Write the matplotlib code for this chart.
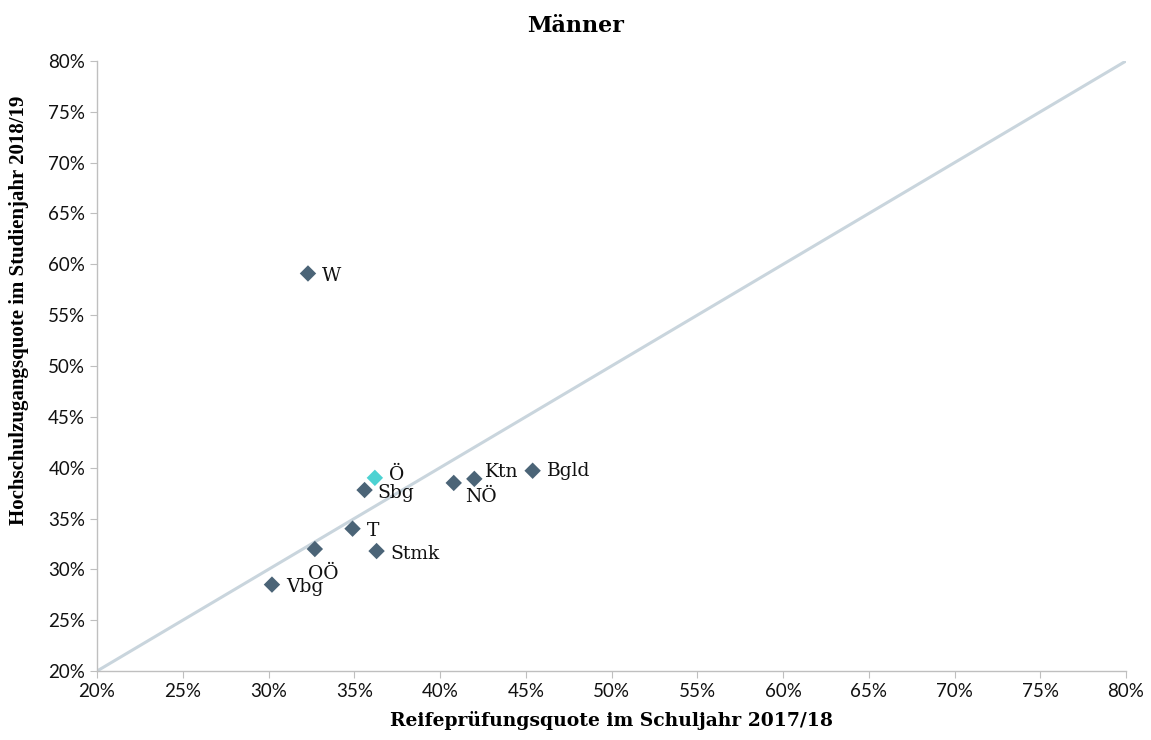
import matplotlib
matplotlib.use('Agg')
import matplotlib.pyplot as plt
from matplotlib.ticker import MultipleLocator, FuncFormatter

# Reifeprüfungsquote 2017/18 (x) vs. Hochschulzugangsquote 2018/19 (y), in %
regions = ['W', 'Ö', 'Sbg', 'T', 'Stmk', 'OÖ', 'Vbg', 'NÖ', 'Ktn', 'Bgld']
reife = [32.3, 36.2, 35.6, 34.9, 36.3, 32.7, 30.2, 40.8, 42.0, 45.4]
hochschule = [59.1, 39.0, 37.8, 34.0, 31.8, 32.0, 28.5, 38.5, 38.9, 39.7]

# label offsets in points (dx, dy) and horizontal alignment
label_offsets = {
    'W': (10, -2, 'left'),
    'Ö': (10, 2, 'left'),
    'Sbg': (9, -2, 'left'),
    'T': (10, -2, 'left'),
    'Stmk': (10, -2, 'left'),
    'OÖ': (6, -18, 'center'),
    'Vbg': (10, -2, 'left'),
    'NÖ': (8, -10, 'left'),
    'Ktn': (8, 5, 'left'),
    'Bgld': (10, 0, 'left'),
}

serif = ['DejaVu Serif']
sans = ['Lato', 'DejaVu Sans']

fig = plt.figure(figsize=(11.51, 7.40), dpi=100)
ax = fig.add_axes([0.0843, 0.0932, 0.894, 0.8244])

ax.plot([20, 80], [20, 80], color='#c9d5dd', linewidth=2.2, zorder=1)

for name, x, y in zip(regions, reife, hochschule):
    color = '#4dd2d2' if name == 'Ö' else '#4b6477'
    ax.scatter(x, y, marker='D', s=70, color=color, edgecolors='none', zorder=3)
    dx, dy, ha = label_offsets[name]
    ax.annotate(name, (x, y), xytext=(dx, dy), textcoords='offset points',
                ha=ha, va='center', fontsize=13.5, family=serif, color='#111111')

ax.set_xlim(20, 80)
ax.set_ylim(20, 80)
ax.xaxis.set_major_locator(MultipleLocator(5))
ax.yaxis.set_major_locator(MultipleLocator(5))
pct = FuncFormatter(lambda v, _: f'{v:.0f}%')
ax.xaxis.set_major_formatter(pct)
ax.yaxis.set_major_formatter(pct)

for side in ['top', 'right']:
    ax.spines[side].set_visible(False)
for side in ['left', 'bottom']:
    ax.spines[side].set_color('#bfbfbf')
    ax.spines[side].set_linewidth(1)
ax.tick_params(colors='#bfbfbf', length=5, labelcolor='#111111', labelsize=13.5)
for lab in ax.get_xticklabels() + ax.get_yticklabels():
    lab.set_family(sans)

ax.set_xlabel('Reifeprüfungsquote im Schuljahr 2017/18', fontsize=13.5,
              fontweight='bold', family=serif, labelpad=8)
ax.set_ylabel('Hochschulzugangsquote im Studienjahr 2018/19', fontsize=15,
              fontweight='bold', family=['Liberation Serif'])
ax.yaxis.set_label_coords(-0.066, 0.592)
fig.text(0.5, 0.965, 'Männer', ha='center', va='center', fontsize=16,
         fontweight='bold', family=serif)

fig.savefig('out.png', dpi=100)
